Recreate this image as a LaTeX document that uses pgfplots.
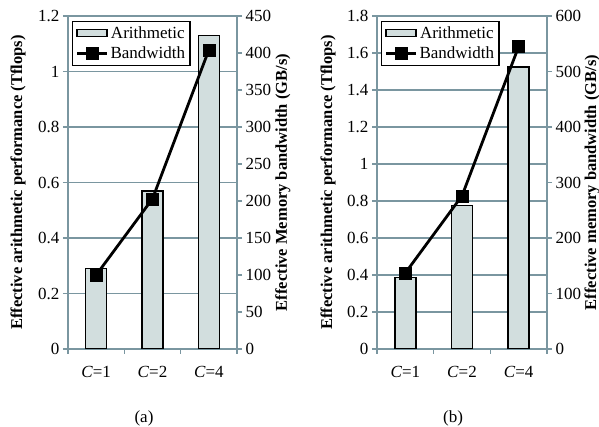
\documentclass[border=0pt]{standalone}
\usepackage{fontspec}
\setmainfont{Liberation Serif}
\usepackage{pgfplots}
\pgfplotsset{compat=1.18}

\definecolor{gridc}{RGB}{122,150,160}
\definecolor{barc}{RGB}{210,222,222}

\tikzset{
  barsty/.style={draw=black, line width=1.4pt, fill=barc},
  linesty/.style={black, line width=2.8pt, mark=square*, mark size=6pt,
    mark options={line width=0.5pt}},
}

\pgfplotsset{
  panel/.style={
    scale only axis, height=333pt,
    xmin=0.5, xmax=3.5, ymin=0,
    font=\fontsize{17}{19}\selectfont,
    /pgf/number format/assume math mode=true,
    axis line style={gridc, line width=1.5pt},
    tick style={gridc, line width=1.5pt},
    major tick length=5pt,
    tick align=outside,
  },
  leftax/.style={panel,
    axis x line*=bottom, axis y line*=left,
    ymajorgrids, grid style={gridc, line width=1.5pt},
    xtick={0.5,1.5,2.5,3.5}, x tick label as interval,
    xticklabels={\textit{C}=1, \textit{C}=2, \textit{C}=4},
    xticklabel style={yshift=-9pt},
    every axis y label/.style={at={(axis description cs:#1,0.5)}, rotate=90, anchor=center,
      font=\fontsize{16.5}{18}\selectfont\bfseries},
  },
  rightax/.style={panel,
    axis x line=none, axis y line*=right,
    every axis y label/.style={at={(axis description cs:#1,0.5)}, rotate=90, anchor=center,
      font=\fontsize{16.5}{18}\selectfont\bfseries},
    legend style={at={(axis description cs:0.024,0.985)}, anchor=north west,
      draw=black, line width=1.3pt, fill=white, inner sep=3pt,
      row sep=3pt, font=\fontsize{17}{19}\selectfont},
  },
  barleg/.style={legend image code/.code={\draw[barsty] (0pt,-3.5pt) rectangle (30pt,3.5pt);}},
  lineleg/.style={legend image code/.code={%
    \draw[black, line width=2.8pt] (0pt,0pt) -- (30pt,0pt);
    \fill[black] (10pt,-5pt) rectangle (20pt,5pt);}},
}

\begin{document}
\begin{tikzpicture}
\useasboundingbox (0,0) rectangle (599pt,427pt);

% (a)
\begin{axis}[leftax=-0.296, at={(68pt,78pt)}, anchor=south west, width=169pt,
  ymax=1.2, ytick distance=0.2,
  ylabel={Effective arithmetic performance (Tflops)}]
\addplot[ybar, bar width=21pt, barsty] coordinates {(1,0.29) (2,0.57) (3,1.13)};
\end{axis}
\begin{axis}[rightax=1.272, at={(68pt,78pt)}, anchor=south west, width=169pt,
  ymax=450, ytick distance=50,
  ylabel={Effective Memory bandwidth (GB/s)}]
\addlegendimage{barsty, barleg}
\addlegendentry{Arithmetic}
\addplot[linesty, lineleg] coordinates {(1,100) (2,203) (3,404)};
\addlegendentry{Bandwidth}
\end{axis}

% (b)
\begin{axis}[leftax=-0.288, at={(377pt,78pt)}, anchor=south west, width=170pt,
  ymax=1.8, ytick distance=0.2,
  ylabel={Effective arithmetic performance (Tflops)}]
\addplot[ybar, bar width=21pt, barsty] coordinates {(1,0.385) (2,0.775) (3,1.525)};
\end{axis}
\begin{axis}[rightax=1.265, at={(377pt,78pt)}, anchor=south west, width=170pt,
  ymax=600, ytick distance=100,
  ylabel={Effective memory bandwidth (GB/s)}]
\addlegendimage{barsty, barleg}
\addlegendentry{Arithmetic}
\addplot[linesty, lineleg] coordinates {(1,137) (2,276) (3,545)};
\addlegendentry{Bandwidth}
\end{axis}

\node[font=\fontsize{17}{19}\selectfont] at (144pt,9pt) {(a)};
\node[font=\fontsize{17}{19}\selectfont] at (453pt,9pt) {(b)};
\end{tikzpicture}
\end{document}
